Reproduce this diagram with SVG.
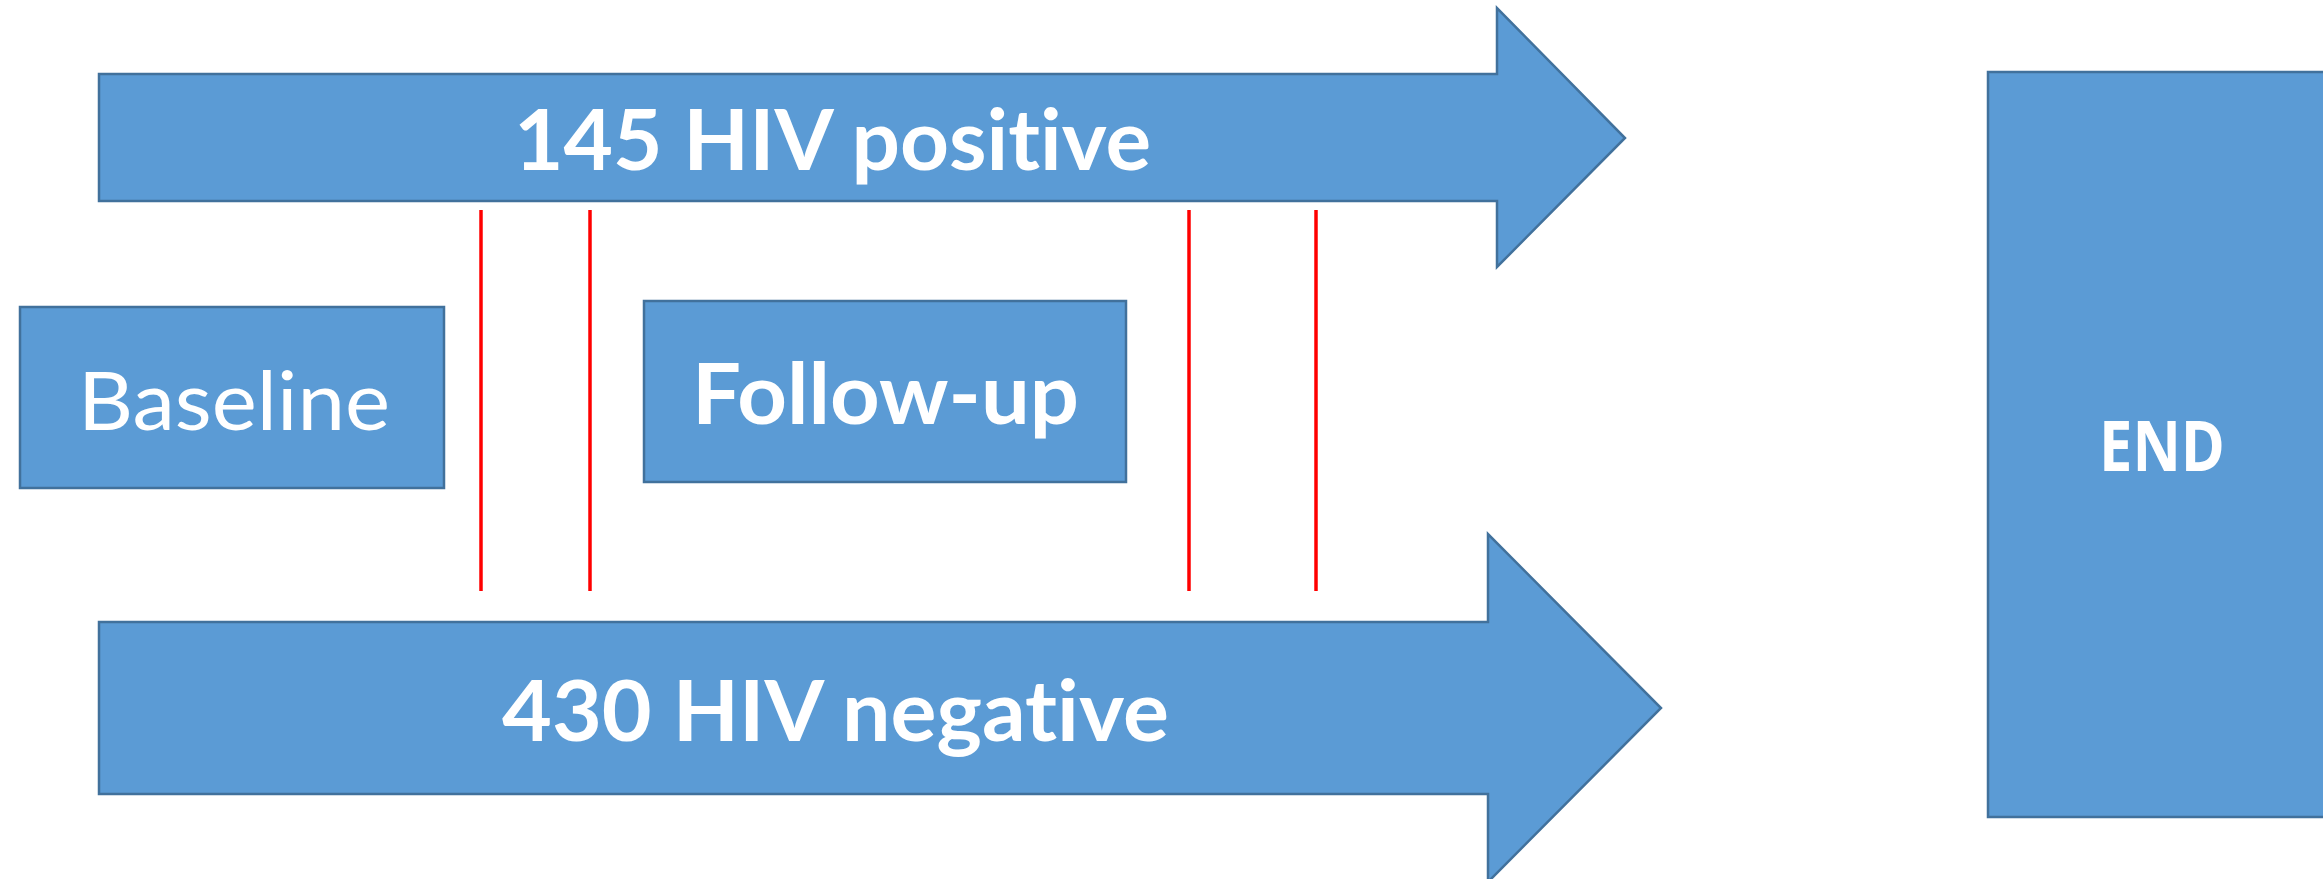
<svg xmlns="http://www.w3.org/2000/svg" width="2323" height="879" viewBox="0 0 2323 879">
<style>
.shape{fill:#5B9BD5;stroke:#41719C;stroke-width:2.5}
.lbl{fill:#FFFFFF;font-family:Lato,"Liberation Sans",sans-serif;font-weight:bold;font-variant-ligatures:none;font-feature-settings:"liga" 0,"clig" 0}
.reg{font-weight:normal}
.end{font-family:"Open Sans","Liberation Sans",sans-serif;font-weight:bold}
.red{stroke:#FF0000;stroke-width:3.5;fill:none}
</style>
<rect width="2323" height="879" fill="#FFFFFF"/>
<g id="hiv-positive">
<polygon class="shape" points="99,74 1497,74 1497,8 1625,138 1497,267 1497,201 99,201"/>
<text class="lbl" x="514" y="170" font-size="85" textLength="637" lengthAdjust="spacingAndGlyphs">145 HIV positive</text>
</g>
<g id="hiv-negative">
<polygon class="shape" points="99,622 1488,622 1488,534 1661,708 1488,882 1488,794 99,794"/>
<text class="lbl" x="502" y="741" font-size="85" textLength="667" lengthAdjust="spacingAndGlyphs">430 HIV negative</text>
</g>
<g id="baseline">
<rect class="shape" x="20" y="307" width="424" height="181"/>
<text class="lbl reg" x="78" y="430" font-size="82" textLength="312" lengthAdjust="spacingAndGlyphs">Baseline</text>
</g>
<g id="follow-up">
<rect class="shape" x="644" y="301" width="482" height="181"/>
<text class="lbl" x="692" y="424" font-size="84" textLength="387" lengthAdjust="spacingAndGlyphs">Follow-up</text>
</g>
<g id="end">
<rect class="shape" x="1988" y="72" width="350" height="745"/>
<text class="lbl end" x="2099" y="471" font-size="69" textLength="126" lengthAdjust="spacingAndGlyphs">END</text>
</g>
<g id="connectors">
<line class="red" x1="481" y1="210" x2="481" y2="591"/>
<line class="red" x1="590" y1="210" x2="590" y2="591"/>
<line class="red" x1="1189" y1="210" x2="1189" y2="591"/>
<line class="red" x1="1316" y1="210" x2="1316" y2="591"/>
</g>
</svg>
